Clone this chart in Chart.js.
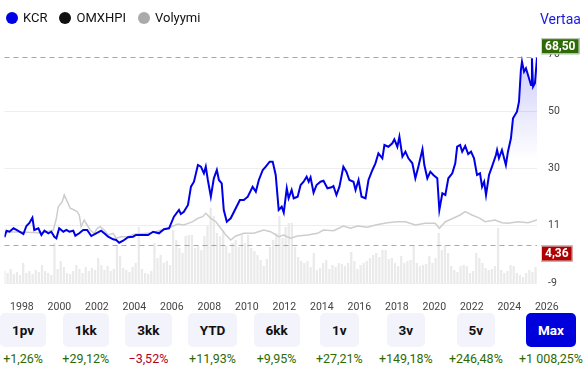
<!DOCTYPE html>
<html lang="fi">
<head>
<meta charset="utf-8">
<title>KCR kurssikehitys</title>
<script src="https://cdn.jsdelivr.net/npm/chart.js@4.4.1/dist/chart.umd.min.js"></script>
<style>
  body { margin: 0; background: #fff; font-family: Roboto, "Noto Sans", sans-serif; }
  #wrap { position: relative; width: 588px; height: 369px; overflow: hidden; }
  #chartBox { position: absolute; left: 0; top: 0; width: 588px; height: 312px; }
  .legend { position: absolute; left: 6px; top: 10px; display: flex; align-items: center; font-size: 13px; color: #111; }
  .legend .item { display: flex; align-items: center; margin-right: 12px; }
  .legend .dot { width: 12px; height: 12px; border-radius: 50%; display: inline-block; margin-right: 5px; }
  #vertaa { position: absolute; left: 540px; top: 11px; font-size: 14px; color: #1b1be0; }
  #periods { position: absolute; left: 0; top: 313px; width: 583px; display: flex; justify-content: space-between; }
  .period { display: flex; flex-direction: column; align-items: center; }
  .period .btn { height: 34px; line-height: 34px; padding: 0 12px; border-radius: 5px; background: #f3f3fb; font-weight: bold; font-size: 13.5px; color: #111; }
  .period .btn.active { background: #0000dd; color: #fff; }
  .period .ret { margin-top: 4px; font-size: 12.5px; line-height: 16px; }
  .up { color: #2d6a04; }
  .down { color: #b3001e; }
</style>
</head>
<body>
<div id="wrap">
  <div id="chartBox"><canvas id="kcrChart"></canvas></div>
  <div class="legend">
    <div class="item"><span class="dot" style="background:#0000e6"></span>KCR</div>
    <div class="item"><span class="dot" style="background:#111"></span>OMXHPI</div>
    <div class="item"><span class="dot" style="background:#aaa"></span>Volyymi</div>
  </div>
  <div id="vertaa">Vertaa</div>
  <div id="periods"></div>
</div>
<script>
// KCR kurssi (vuosi desimaalina, hinta euroa)
const kcrYears = [
  1997.07, 1997.18, 1997.34, 1997.55, 1997.71, 1997.87, 1998.08, 1998.24, 1998.40, 1998.56,
  1998.66, 1998.88, 1999.04, 1999.20, 1999.41, 1999.57, 1999.73, 1999.84, 1999.99, 2000.21,
  2000.37, 2000.53, 2000.74, 2000.85, 2001.06, 2001.27, 2001.48, 2001.70, 2001.96, 2002.23,
  2002.44, 2002.60, 2002.87, 2003.03, 2003.19, 2003.40, 2003.66, 2003.93, 2004.09, 2004.36,
  2004.73, 2005.00, 2005.31, 2005.58, 2005.85, 2006.11, 2006.38, 2006.48, 2006.64, 2006.86,
  2007.02, 2007.18, 2007.39, 2007.55, 2007.71, 2007.81, 2007.92, 2008.08, 2008.24, 2008.40,
  2008.51, 2008.66, 2008.77, 2008.93, 2009.14, 2009.41, 2009.63, 2009.84, 2010.05, 2010.31,
  2010.48, 2010.64, 2010.85, 2011.01, 2011.22, 2011.38, 2011.54, 2011.70, 2011.86, 2011.97,
  2012.13, 2012.23, 2012.39, 2012.50, 2012.71, 2012.87, 2013.03, 2013.19, 2013.30, 2013.40,
  2013.56, 2013.72, 2013.93, 2014.09, 2014.30, 2014.52, 2014.62, 2014.78, 2014.94, 2015.15,
  2015.31, 2015.47, 2015.69, 2015.80, 2015.96, 2016.12, 2016.33, 2016.49, 2016.70, 2016.86,
  2017.02, 2017.23, 2017.34, 2017.55, 2017.76, 2017.87, 2018.03, 2018.14, 2018.30, 2018.46,
  2018.62, 2018.83, 2018.99, 2019.15, 2019.37, 2019.47, 2019.63, 2019.79, 2019.95, 2020.16,
  2020.27, 2020.43, 2020.59, 2020.75, 2020.96, 2021.12, 2021.22, 2021.38, 2021.49, 2021.65,
  2021.81, 2021.96, 2022.12, 2022.28, 2022.44, 2022.55, 2022.66, 2022.76, 2022.92, 2023.08,
  2023.29, 2023.35, 2023.45, 2023.61, 2023.82, 2023.93, 2024.09, 2024.20, 2024.41, 2024.52,
  2024.62, 2024.68, 2024.79, 2024.89, 2025.00, 2025.16, 2025.21, 2025.27, 2025.37, 2025.48
];
const kcrPrices = [
  6.85, 9.11, 8.76, 9.93, 9.35, 8.76, 7.98, 10.72, 11.74, 13.56,
  9.35, 9.93, 7.64, 9.11, 8.22, 8.76, 7.05, 6.51, 9.93, 8.76,
  9.35, 8.76, 9.11, 7.40, 8.22, 9.35, 9.35, 7.29, 8.22, 9.11,
  7.98, 7.05, 6.16, 5.92, 5.00, 5.68, 6.85, 7.05, 7.64, 7.64,
  7.64, 8.76, 8.22, 9.59, 9.93, 13.90, 16.19, 14.82, 15.61, 17.91,
  24.17, 25.88, 31.60, 31.02, 28.76, 31.02, 26.46, 20.75, 27.05, 29.89,
  26.46, 25.33, 16.19, 12.19, 13.35, 16.78, 19.62, 19.62, 20.75, 24.17,
  22.46, 26.46, 29.89, 31.02, 32.73, 32.73, 28.18, 16.19, 17.32, 15.27,
  23.62, 20.20, 23.04, 20.20, 20.75, 24.75, 25.88, 27.59, 25.88, 27.39,
  22.12, 24.75, 25.88, 26.22, 23.62, 23.96, 24.41, 21.33, 24.17, 31.02,
  29.31, 26.46, 25.88, 23.04, 26.46, 20.75, 20.20, 26.46, 29.89, 32.18,
  35.60, 33.89, 38.45, 37.86, 39.03, 40.40, 37.86, 41.29, 34.44, 36.15,
  33.89, 32.18, 27.05, 31.02, 36.97, 31.60, 27.05, 29.31, 28.18, 27.05,
  16.19, 21.91, 21.33, 27.05, 28.76, 32.18, 37.86, 38.45, 36.15, 38.10,
  35.37, 36.15, 33.89, 28.18, 28.76, 24.17, 25.88, 21.33, 28.18, 31.02,
  35.02, 36.73, 33.89, 36.73, 31.60, 36.15, 40.74, 47.59, 49.85, 53.27,
  64.12, 66.96, 63.54, 64.70, 62.41, 58.99, 68.13, 58.41, 59.57, 68.50
];

// OMXHPI suhteutettuna KCR:n alkuarvoon
const omxYears = [
  1997.07, 1997.97, 1999.04, 1999.68, 1999.84, 1999.94, 2000.15, 2000.26, 2000.42, 2000.58,
  2000.79, 2000.95, 2001.06, 2001.16, 2001.32, 2001.48, 2001.64, 2001.86, 2002.02, 2002.18,
  2002.39, 2002.60, 2002.87, 2003.03, 2003.29, 2003.66, 2003.98, 2004.89, 2005.79, 2006.32,
  2006.64, 2007.12, 2007.39, 2007.65, 2007.81, 2008.08, 2008.35, 2008.61, 2008.88, 2009.14,
  2009.41, 2009.84, 2010.37, 2010.90, 2011.27, 2011.70, 2011.96, 2012.33, 2012.71, 2013.24,
  2013.77, 2014.09, 2014.63, 2015.15, 2015.53, 2015.90, 2016.43, 2016.86, 2017.49, 2018.03,
  2018.46, 2018.99, 2019.52, 2020.05, 2020.27, 2020.59, 2021.01, 2021.38, 2021.65, 2022.01,
  2022.44, 2022.71, 2023.24, 2023.61, 2023.93, 2024.47, 2025.00, 2025.48
];
const omxValues = [
  8.66, 8.66, 8.32, 9.35, 13.35, 17.32, 19.04, 21.33, 19.04, 16.78,
  16.19, 15.61, 14.48, 10.48, 12.77, 11.06, 9.35, 8.22, 9.93, 10.48,
  9.35, 7.64, 8.22, 6.51, 7.05, 7.05, 7.87, 8.32, 9.93, 11.40,
  11.06, 12.19, 13.35, 13.90, 15.06, 13.35, 12.19, 9.93, 7.64, 5.92,
  7.29, 8.22, 8.22, 9.35, 8.76, 7.05, 7.64, 6.51, 7.29, 7.64,
  8.22, 9.35, 9.11, 10.72, 9.93, 10.72, 10.27, 11.06, 11.85, 12.19,
  12.19, 11.06, 11.64, 11.64, 9.93, 12.19, 13.35, 14.48, 15.61, 14.48,
  13.35, 12.19, 12.77, 11.85, 11.64, 12.19, 11.85, 12.77
];

// Volyymi kahden kuukauden jaksoissa (tuhatta kpl), alkaen 1997.07
const volumeStart = 1997.07;
const volumes = [
  120, 100, 140, 90, 110, 80,
  200, 100, 120, 90, 130, 110,
  180, 120, 100, 80, 400, 140,
  220, 160, 100, 90, 120, 180,
  140, 100, 160, 120, 150, 130,
  250, 180, 130, 170, 120, 140,
  380, 270, 150, 130, 110, 160,
  200, 560, 140, 100, 90, 120,
  400, 250, 280, 200, 220, 180,
  530, 430, 350, 300, 470, 480,
  480, 350, 370, 330, 470, 570,
  750, 670, 500, 470, 530, 370,
  300, 400, 430, 360, 480, 400,
  480, 350, 320, 280, 230, 170,
  240, 360, 430, 500, 670, 450,
  560, 600, 600, 360, 260, 220,
  200, 220, 160, 300, 130, 150,
  200, 230, 140, 180, 160, 200,
  190, 170, 200, 310, 220, 140,
  180, 200, 220, 250, 280, 300,
  260, 330, 330, 240, 250, 200,
  170, 270, 200, 220, 230, 370,
  200, 170, 180, 190, 270, 200,
  250, 500, 330, 380, 300, 170,
  130, 110, 170, 180, 170, 100,
  120, 300, 250, 200, 150, 130,
  140, 170, 550, 130, 100, 120,
  180, 170, 100, 80, 60, 100,
  130, 110, 160
];

const yearTicks = [1998, 2000, 2002, 2004, 2006, 2008, 2010, 2012, 2014, 2016, 2018, 2020, 2022, 2024, 2026];
const priceTicks = [-8.8, 10.8, 30.4, 50, 69.6];
const lastPrice = 68.5;
const lowPrice = 4.36;

// Aikavälin tuotot
const periodLabels = ['1pv', '1kk', '3kk', 'YTD', '6kk', '1v', '3v', '5v', 'Max'];
const periodReturns = [1.26, 29.12, -3.52, 11.93, 9.95, 27.21, 149.18, 246.48, 1008.25];

function fiNumber(v) {
  return v.toFixed(2).replace('.', ',');
}

function fiPercent(v) {
  const parts = Math.abs(v).toFixed(2).split('.');
  const whole = parts[0].replace(/\B(?=(\d{3})+(?!\d))/g, ' ');
  return (v < 0 ? '\u2212' : '+') + whole + ',' + parts[1] + '%';
}

function toPoints(xs, ys) {
  return xs.map((x, i) => ({ x: x, y: ys[i] }));
}

function drawBadge(ctx, text, x, y, color) {
  ctx.save();
  ctx.font = 'bold 12px Roboto, sans-serif';
  const w = ctx.measureText(text).width + 8;
  const h = 16;
  ctx.fillStyle = color;
  ctx.fillRect(x, y, w, h);
  ctx.strokeStyle = '#d8d8d8';
  ctx.lineWidth = 1;
  ctx.strokeRect(x + 0.5, y + 0.5, w - 1, h - 1);
  ctx.fillStyle = '#fff';
  ctx.textAlign = 'center';
  ctx.textBaseline = 'middle';
  ctx.fillText(text, x + w / 2, y + h / 2 + 0.5);
  ctx.restore();
}

// Viimeisin hinta ja alin hinta katkoviivoina
const priceLines = {
  id: 'priceLines',
  afterDatasetsDraw(chart) {
    const { ctx, chartArea, scales } = chart;
    ctx.save();
    ctx.lineWidth = 1;
    ctx.setLineDash([5, 4]);
    [[lastPrice, 'rgba(125,140,105,0.7)'], [lowPrice, 'rgba(205,90,90,0.65)']].forEach(([v, c]) => {
      const y = Math.round(scales.y.getPixelForValue(v)) + 0.5;
      ctx.strokeStyle = c;
      ctx.beginPath();
      ctx.moveTo(chartArea.left, y);
      ctx.lineTo(chartArea.right, y);
      ctx.stroke();
    });
    ctx.restore();
  },
  afterDraw(chart) {
    const { ctx, chartArea, scales } = chart;
    drawBadge(ctx, fiNumber(lastPrice), chartArea.right + 4, scales.y.getPixelForValue(lastPrice) - 19, '#2e6a05');
    drawBadge(ctx, fiNumber(lowPrice), chartArea.right + 4, scales.y.getPixelForValue(lowPrice) + 1, '#b00000');
  }
};

Chart.defaults.font.family = 'Roboto, sans-serif';

const chart = new Chart(document.getElementById('kcrChart'), {
  type: 'line',
  data: {
    datasets: [
      {
        label: 'KCR',
        data: toPoints(kcrYears, kcrPrices),
        borderColor: '#0000e6',
        borderWidth: 2,
        pointRadius: 0,
        tension: 0,
        fill: 'start',
        backgroundColor: (c) => {
          const area = c.chart.chartArea;
          if (!area) return 'transparent';
          const g = c.chart.ctx.createLinearGradient(0, area.top, 0, area.top + 105);
          g.addColorStop(0, 'rgba(20,20,230,0.22)');
          g.addColorStop(1, 'rgba(20,20,230,0)');
          return g;
        },
        yAxisID: 'y'
      },
      {
        label: 'OMXHPI',
        data: toPoints(omxYears, omxValues),
        borderColor: '#cdcdcd',
        borderWidth: 1.5,
        pointRadius: 0,
        tension: 0,
        fill: false,
        yAxisID: 'y'
      },
      {
        type: 'bar',
        label: 'Volyymi',
        data: volumes.map((v, i) => ({ x: volumeStart + i / 6, y: v })),
        backgroundColor: '#eaeaea',
        barPercentage: 0.9,
        categoryPercentage: 0.8,
        yAxisID: 'yVol'
      }
    ]
  },
  options: {
    responsive: true,
    maintainAspectRatio: false,
    animation: false,
    events: [],
    layout: { padding: { top: 54, left: 3, right: 0, bottom: 0 } },
    plugins: {
      legend: { display: false },
      tooltip: { enabled: false }
    },
    scales: {
      x: {
        type: 'linear',
        min: kcrYears[0],
        max: kcrYears[kcrYears.length - 1],
        offset: false,
        grid: { display: false },
        border: { display: false },
        afterBuildTicks: (axis) => { axis.ticks = yearTicks.map((v) => ({ value: v })); },
        afterFit: (axis) => { axis.height = 29; },
        ticks: {
          autoSkip: false,
          maxRotation: 0,
          padding: 10,
          color: '#444',
          font: { size: 10.5 },
          callback: (v) => String(v)
        }
      },
      y: {
        position: 'right',
        min: priceTicks[0],
        max: priceTicks[priceTicks.length - 1],
        afterBuildTicks: (axis) => { axis.ticks = priceTicks.map((v) => ({ value: v })); },
        afterFit: (axis) => { axis.width = 51; },
        grid: {
          drawTicks: false,
          color: (c) => (c.tick && c.tick.value > 69 ? 'transparent' : '#eeeeee')
        },
        border: { display: false },
        ticks: {
          padding: 11,
          color: '#444',
          font: { size: 10.5 },
          callback: (v) => Math.round(v)
        }
      },
      yVol: {
        display: false,
        min: 0,
        max: 2290
      }
    }
  },
  plugins: [priceLines]
});

// Aikavälipainikkeet
const periods = document.getElementById('periods');
periodLabels.forEach((label, i) => {
  const col = document.createElement('div');
  col.className = 'period';
  const btn = document.createElement('div');
  btn.className = 'btn' + (label === 'Max' ? ' active' : '');
  btn.textContent = label;
  const ret = document.createElement('div');
  ret.className = 'ret ' + (periodReturns[i] < 0 ? 'down' : 'up');
  ret.textContent = fiPercent(periodReturns[i]);
  col.appendChild(btn);
  col.appendChild(ret);
  periods.appendChild(col);
});
</script>
</body>
</html>
